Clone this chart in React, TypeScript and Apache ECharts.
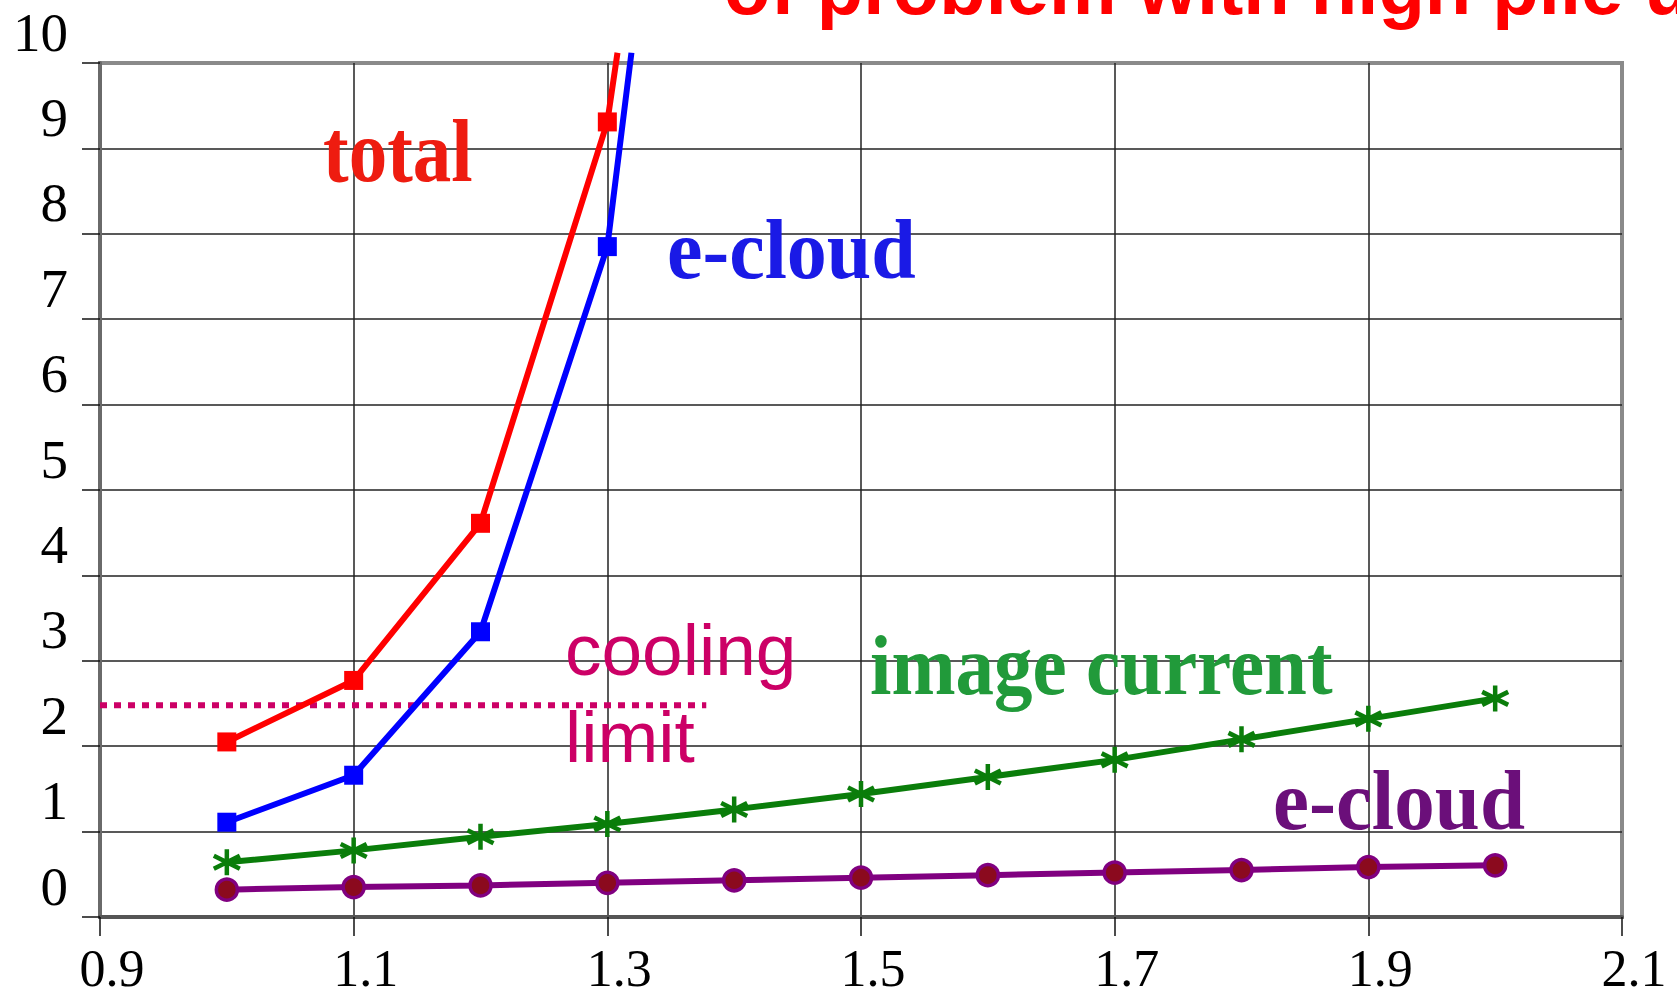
import React, { useEffect, useRef } from "react";
import * as echarts from "echarts";

// ---- data ----
const xTicks = { min: 0.9, max: 2.1, interval: 0.2 };
const yTicks = { min: 0, max: 10, interval: 1 };

const totalX = [1.0, 1.1, 1.2, 1.3, 1.308];
const totalY = [2.05, 2.77, 4.61, 9.31, 10.12];

const eCloudHighX = [1.0, 1.1, 1.2, 1.3, 1.319];
const eCloudHighY = [1.11, 1.66, 3.34, 7.85, 10.12];

const lowX = [1.0, 1.1, 1.2, 1.3, 1.4, 1.5, 1.6, 1.7, 1.8, 1.9, 2.0];
const imageCurrentY = [0.64, 0.78, 0.94, 1.09, 1.26, 1.44, 1.64, 1.84, 2.08, 2.32, 2.56];
const eCloudLowY = [0.32, 0.35, 0.37, 0.4, 0.43, 0.46, 0.49, 0.52, 0.55, 0.585, 0.605];

const coolingLimitX = [0.9, 1.378];
const coolingLimitY = [2.48, 2.48];

const SERIF = "'Liberation Serif', 'Times New Roman', serif";
const SANS = "'Liberation Sans', Arial, sans-serif";

const asterisk = "path://M12 0 L12 24 M1.6 6 L22.4 18 M1.6 18 L22.4 6";

function pairs(xs: number[], ys: number[], tailNoSymbol: boolean) {
  return xs.map((x, i) => {
    const item: any = { value: [x, ys[i]] };
    if (tailNoSymbol && i === xs.length - 1) item.symbol = "none";
    return item;
  });
}

export default function App() {
  const ref = useRef<HTMLDivElement>(null);

  useEffect(() => {
    if (!ref.current) return;
    const chart = echarts.init(ref.current, undefined, { renderer: "svg" });

    const option: any = {
      animation: false,
      backgroundColor: "#ffffff",
      grid: {
        left: 100,
        right: 55,
        top: 63,
        bottom: 83,
        show: true,
        borderColor: "#8a8a8a",
        borderWidth: 4,
        backgroundColor: "transparent",
      },
      xAxis: {
        type: "value",
        min: xTicks.min,
        max: xTicks.max,
        interval: xTicks.interval,
        axisLine: { show: true, onZero: false, lineStyle: { color: "#555", width: 4 } },
        axisTick: { show: true, length: 19, lineStyle: { color: "#111", width: 1.5 } },
        splitLine: { show: true, showMinLine: false, showMaxLine: false, lineStyle: { color: "#222", width: 1.5 } },
        axisLabel: {
          fontFamily: SERIF,
          fontSize: 52,
          color: "#000",
          margin: 26,
          lineHeight: 50,
          padding: [0, 0, 0, 24],
          formatter: (v: number) => (Math.round(v * 10) / 10).toFixed(1),
        },
      },
      yAxis: {
        type: "value",
        min: yTicks.min,
        max: yTicks.max,
        interval: yTicks.interval,
        axisLine: { show: true, onZero: false, lineStyle: { color: "#6a6a6a", width: 4 } },
        axisTick: { show: true, length: 18, lineStyle: { color: "#111", width: 1.5 } },
        splitLine: { show: true, showMinLine: false, showMaxLine: false, lineStyle: { color: "#222", width: 1.5 } },
        axisLabel: {
          fontFamily: SERIF,
          fontSize: 55,
          color: "#000",
          margin: 32,
          lineHeight: 56,
          verticalAlign: "bottom",
          padding: [0, 0, 3, 0],
        },
      },
      series: [
        {
          name: "cooling limit",
          type: "line",
          data: pairs(coolingLimitX, coolingLimitY, false),
          symbol: "none",
          lineStyle: { color: "#CC0066", width: 6, type: [7, 7], cap: "butt" },
          z: 3,
        },
        {
          name: "total",
          type: "line",
          data: pairs(totalX, totalY, true),
          clip: false,
          symbol: "rect",
          symbolSize: 19,
          lineStyle: { color: "#FF0000", width: 6 },
          itemStyle: { color: "#FF0000" },
          z: 4,
        },
        {
          name: "e-cloud",
          type: "line",
          data: pairs(eCloudHighX, eCloudHighY, true),
          clip: false,
          symbol: "rect",
          symbolSize: 19,
          lineStyle: { color: "#0000FF", width: 6 },
          itemStyle: { color: "#0000FF" },
          z: 4,
        },
        {
          name: "image current",
          type: "line",
          data: pairs(lowX, imageCurrentY, false),
          symbol: asterisk,
          symbolSize: 26,
          lineStyle: { color: "#0A7D0A", width: 6 },
          itemStyle: { color: "#0A7D0A", borderColor: "#0A7D0A", borderWidth: 4.5 },
          z: 4,
        },
        {
          name: "e-cloud (low)",
          type: "line",
          data: pairs(lowX, eCloudLowY, false),
          symbol: "circle",
          symbolSize: 21,
          lineStyle: { color: "#800080", width: 6 },
          itemStyle: { color: "#8B0A1E", borderColor: "#800080", borderWidth: 3.5 },
          z: 4,
        },
      ],
      graphic: [
        {
          type: "text",
          x: 724,
          y: -13,
          z: 10,
          style: {
            text: "of problem with high pile u",
            fontFamily: SANS,
            fontWeight: "bold",
            fontSize: 76,
            fill: "#FF0000",
            align: "left",
            verticalAlign: "middle",
          },
        },
        {
          type: "text",
          x: 323,
          y: 151,
          scaleY: 1.15,
          z: 10,
          style: {
            text: "total",
            fontFamily: SERIF,
            fontWeight: "bold",
            fontSize: 77,
            fill: "#EE1C10",
            align: "left",
            verticalAlign: "middle",
          },
        },
        {
          type: "text",
          x: 667,
          y: 250,
          scaleY: 1.05,
          z: 10,
          style: {
            text: "e-cloud",
            fontFamily: SERIF,
            fontWeight: "bold",
            fontSize: 80,
            fill: "#1A1AE6",
            align: "left",
            verticalAlign: "middle",
          },
        },
        {
          type: "text",
          x: 870,
          y: 666,
          scaleY: 1.1,
          z: 10,
          style: {
            text: "image current",
            fontFamily: SERIF,
            fontWeight: "bold",
            fontSize: 77,
            fill: "#219A3A",
            align: "left",
            verticalAlign: "middle",
          },
        },
        {
          type: "text",
          x: 1273,
          y: 800,
          scaleY: 1.05,
          z: 10,
          style: {
            text: "e-cloud",
            fontFamily: SERIF,
            fontWeight: "bold",
            fontSize: 81,
            fill: "#6B0F7A",
            align: "left",
            verticalAlign: "middle",
          },
        },
        {
          type: "text",
          x: 565,
          y: 649,
          z: 10,
          style: {
            text: "cooling",
            fontFamily: SANS,
            fontSize: 73,
            fill: "#CC0066",
            align: "left",
            verticalAlign: "middle",
          },
        },
        {
          type: "text",
          x: 565,
          y: 736,
          z: 10,
          style: {
            text: "limit",
            fontFamily: SANS,
            fontSize: 73,
            fill: "#CC0066",
            align: "left",
            verticalAlign: "middle",
          },
        },
      ],
    };

    chart.setOption(option);
    return () => chart.dispose();
  }, []);

  return (
    <div
      ref={ref}
      style={{ position: "fixed", left: 0, top: 0, width: 1677, height: 1000, background: "#fff" }}
    />
  );
}
